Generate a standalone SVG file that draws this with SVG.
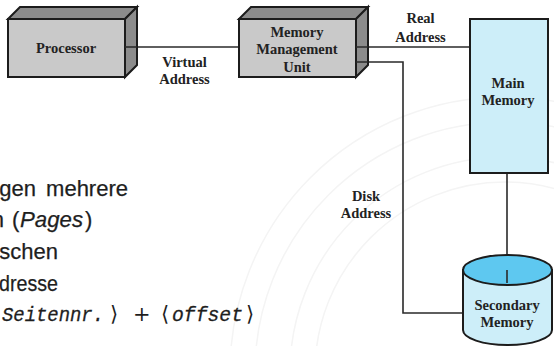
<svg xmlns="http://www.w3.org/2000/svg" width="554" height="346" viewBox="0 0 554 346">
<style>
.wm{fill:none;stroke:#f4f4f4;stroke-width:1.5}
.face{fill:#c9c9c9;stroke:#1c1c1c;stroke-width:2;stroke-linejoin:miter}
.dark{fill:#8c8c8c;stroke:#1c1c1c;stroke-width:2;stroke-linejoin:miter}
.mem{fill:#cdeef9;stroke:#1c1c1c;stroke-width:2}
.memtop{fill:#5ec8f0;stroke:#1c1c1c;stroke-width:2}
.con{fill:none;stroke:#2a2a2a;stroke-width:1.6}
.lbl{font-family:"Liberation Serif","Times New Roman",serif;font-weight:bold;font-size:14.5px;fill:#222;text-anchor:middle}
.body{font-family:"Liberation Sans",Arial,sans-serif;font-size:22px;fill:#1e1e1e;stroke:#1e1e1e;stroke-width:0.25}
.tt{font-family:"Liberation Mono","Courier New",monospace;font-style:italic;font-size:21px;fill:#1e1e1e;stroke:#1e1e1e;stroke-width:0.3}
.math{font-family:"DejaVu Serif","Liberation Serif",serif;font-size:21px;fill:#1e1e1e}
</style>
<g id="watermark">
<circle class="wm" cx="505" cy="372" r="275"/>
<circle class="wm" cx="505" cy="372" r="250"/>
<circle class="wm" cx="505" cy="372" r="215"/>
<circle class="wm" cx="505" cy="372" r="190"/>
</g>
<g id="slide-text">
<text class="body" x="128" y="196" text-anchor="end" word-spacing="4">gen mehrere</text>
<text class="body" x="4" y="227" text-anchor="end">n</text>
<text class="body" x="12" y="227">(</text>
<text class="body" x="20" y="227" font-style="italic" textLength="63" lengthAdjust="spacingAndGlyphs">Pages</text>
<text class="body" x="85" y="227">)</text>
<text class="body" x="58" y="259" text-anchor="end">schen</text>
<text class="body" x="-1" y="291" textLength="59" lengthAdjust="spacingAndGlyphs">dresse</text>
<text class="tt" x="2" y="321" textLength="102" lengthAdjust="spacingAndGlyphs">Seitennr.</text>
<text class="math" x="110" y="321">⟩</text>
<text class="math" x="133" y="321">+</text>
<text class="math" x="161" y="321">⟨</text>
<text class="tt" x="172" y="321" textLength="71" lengthAdjust="spacingAndGlyphs">offset</text>
<text class="math" x="246" y="321">⟩</text>
</g>
<g id="connectors">
<path class="con" d="M131,47 H239"/>
<path class="con" d="M362,47 H470"/>
<path class="con" d="M362,62 H403 V313 H463"/>
<path class="con" d="M507,173 V270"/>
</g>
<g id="processor">
<polygon class="dark" points="8,19 20,7 137,7 125,19"/>
<polygon class="dark" points="125,19 137,7 137,65 125,77"/>
<rect class="face" x="8" y="19" width="117" height="58"/>
<path class="con" d="M125,47 H137"/>
<text class="lbl" x="66" y="53">Processor</text>
</g>
<g id="mmu">
<polygon class="dark" points="239,19 251,7 368,7 356,19"/>
<polygon class="dark" points="356,19 368,7 368,65 356,77"/>
<rect class="face" x="239" y="19" width="117" height="58"/>
<path class="con" d="M356,47 H368 M356,62 H368"/>
<text class="lbl" x="297" y="36.5">Memory</text>
<text class="lbl" x="297" y="54">Management</text>
<text class="lbl" x="297" y="71.5">Unit</text>
</g>
<g id="main-memory">
<rect class="mem" x="470" y="19" width="78" height="154"/>
<text class="lbl" x="508" y="87.5">Main</text>
<text class="lbl" x="508" y="105">Memory</text>
</g>
<g id="secondary-memory">
<path class="mem" d="M463,270 V330 A44.5,15 0 0 0 552,330 V270 Z"/>
<ellipse class="memtop" cx="507.5" cy="270" rx="44.5" ry="15"/>
<path class="con" d="M507,270 V283"/>
<text class="lbl" x="507" y="310">Secondary</text>
<text class="lbl" x="507" y="327">Memory</text>
</g>
<g id="edge-labels">
<text class="lbl" x="184.5" y="66.5">Virtual</text>
<text class="lbl" x="184.5" y="84">Address</text>
<text class="lbl" x="420.5" y="23">Real</text>
<text class="lbl" x="420.5" y="41.5">Address</text>
<text class="lbl" x="366" y="200.5">Disk</text>
<text class="lbl" x="366" y="218">Address</text>
</g>
</svg>
